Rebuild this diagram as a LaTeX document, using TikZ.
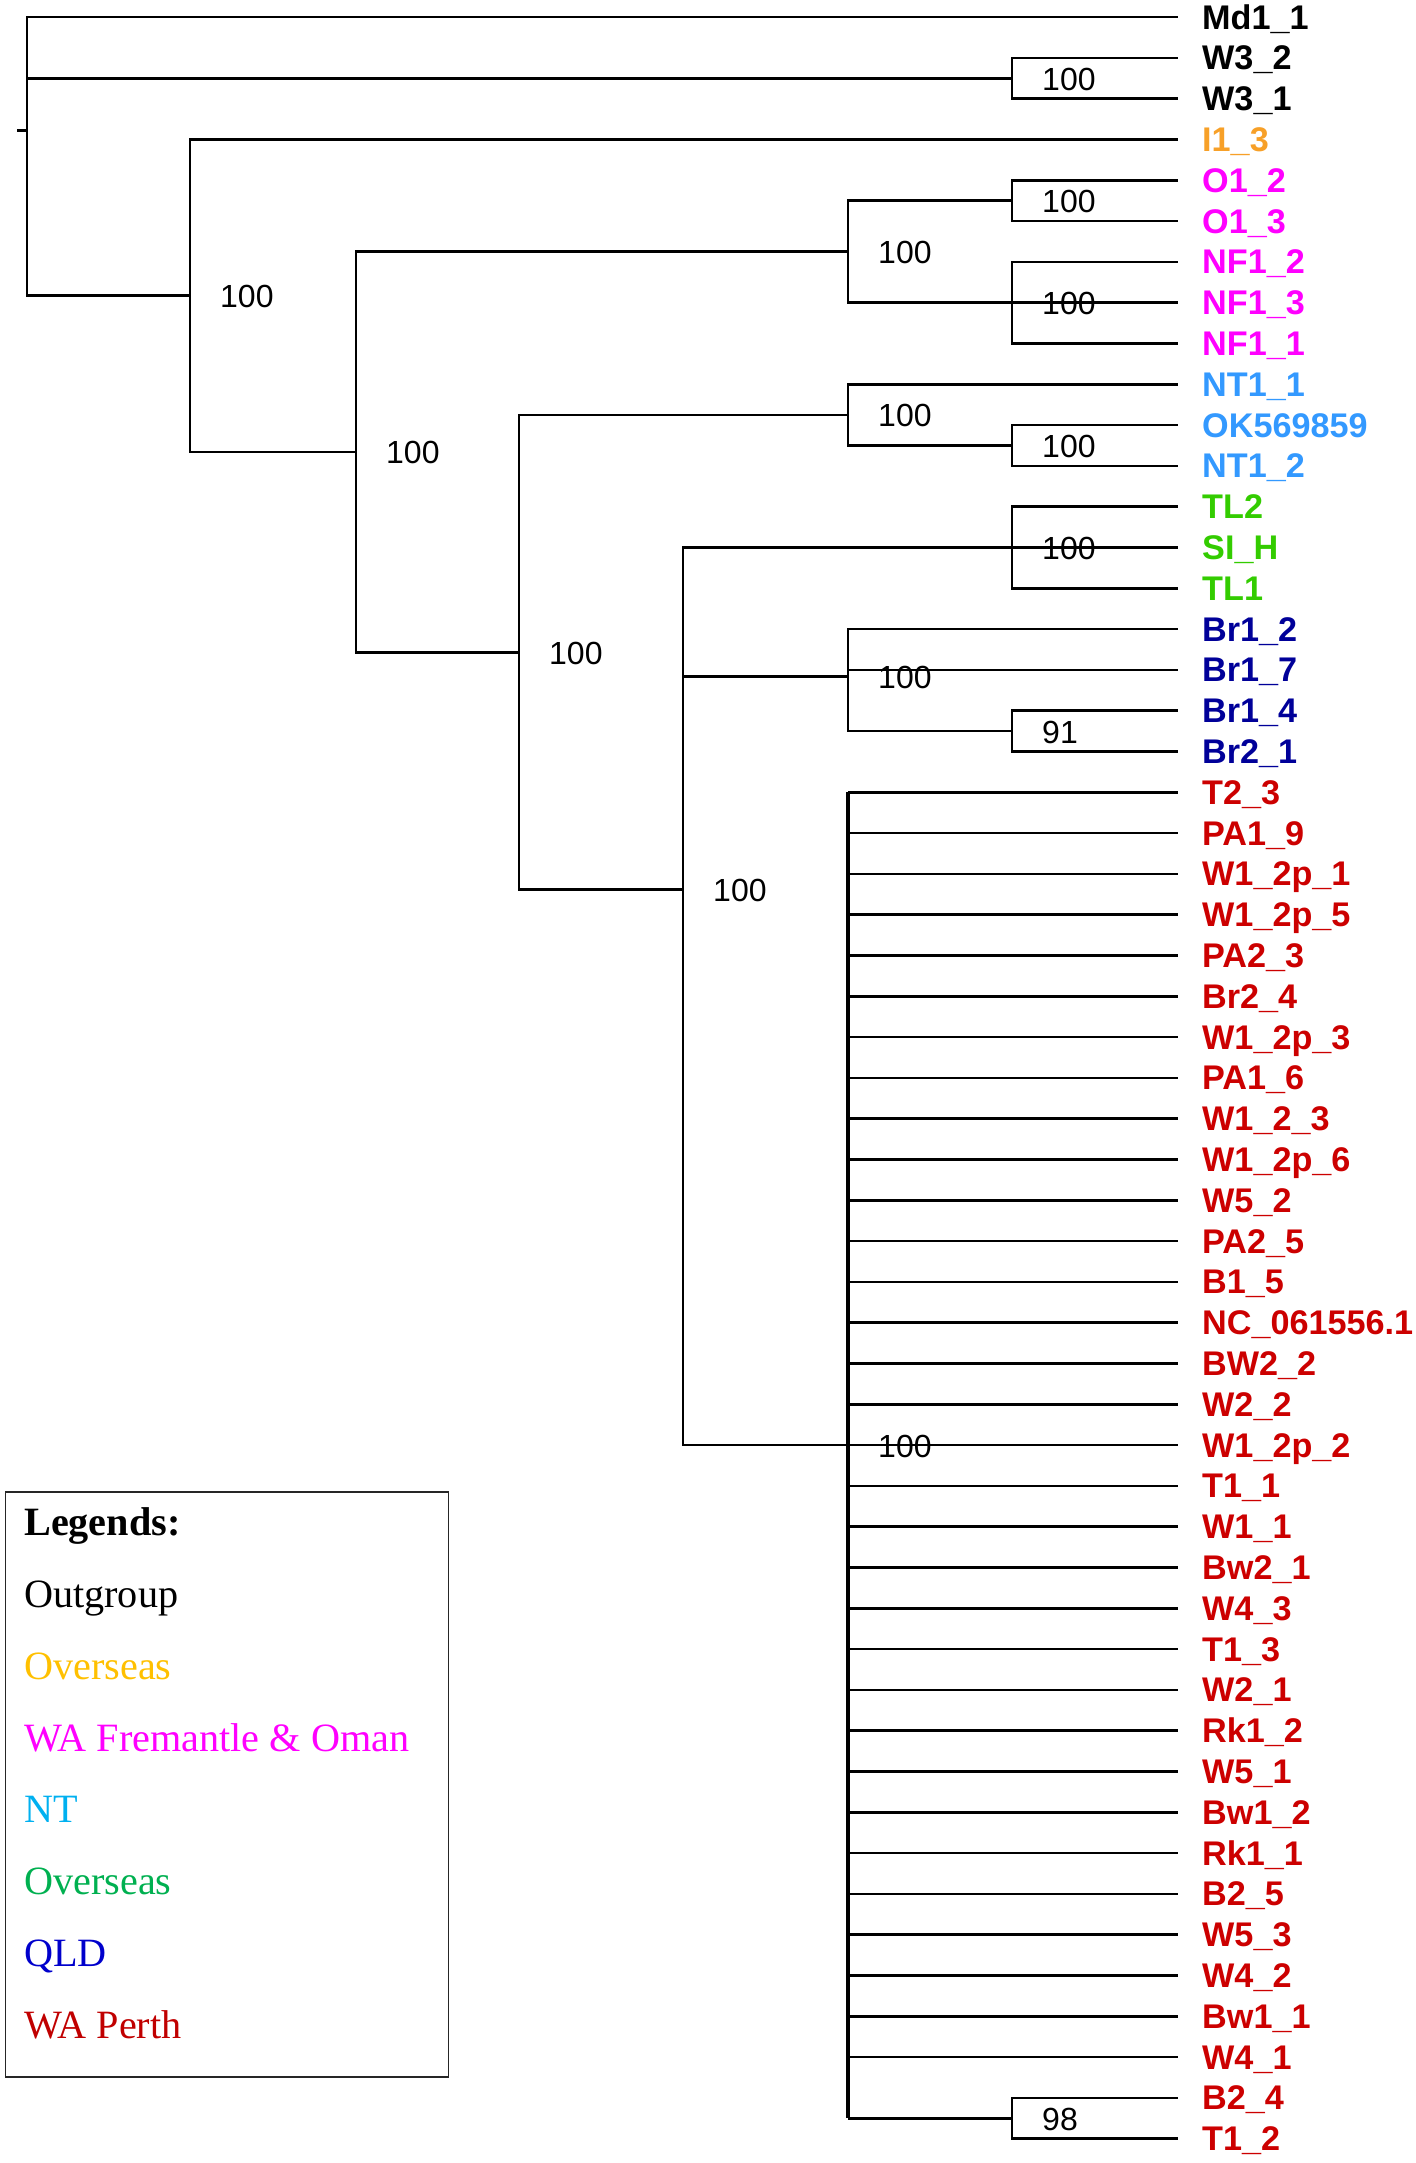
\documentclass[tikz,border=0pt]{standalone}
\usepackage{fontspec}
\setmainfont{Liberation Serif}
\newfontfamily\arialf{Liberation Sans}
\definecolor{cOrange}{RGB}{247,160,40}
\definecolor{cMag}{RGB}{255,0,255}
\definecolor{cNT}{RGB}{51,153,255}
\definecolor{cGreen}{RGB}{51,204,0}
\definecolor{cQLD}{RGB}{0,0,153}
\definecolor{cRed}{RGB}{204,0,0}
\definecolor{lgOrange}{RGB}{255,192,0}
\definecolor{lgMag}{RGB}{255,0,255}
\definecolor{lgNT}{RGB}{0,176,240}
\definecolor{lgGreen}{RGB}{0,176,80}
\definecolor{lgQLD}{RGB}{0,0,204}
\definecolor{lgRed}{RGB}{192,0,0}
\begin{document}
\begin{tikzpicture}[x=1pt,y=-1pt,
  branch/.style={line width=2.6pt,black},
  thickbranch/.style={line width=4.6pt,black},
  leaflab/.style={anchor=base west,inner sep=0pt,font=\arialf\bfseries\fontsize{34.2}{36}\selectfont},
  supp/.style={anchor=base west,inner sep=0pt,font=\arialf\fontsize{32}{36}\selectfont},
  legtext/.style={anchor=base west,inner sep=0pt,font=\fontsize{40.2}{44}\selectfont},
  legbox/.style={draw=black!85,line width=1.8pt}]
\useasboundingbox (0,0) rectangle (1416,2163);
% leaves
\foreach \i/\t/\c in {0/Md1\_1/black,1/W3\_2/black,2/W3\_1/black,3/I1\_3/cOrange,
  4/O1\_2/cMag,5/O1\_3/cMag,6/NF1\_2/cMag,7/NF1\_3/cMag,8/NF1\_1/cMag,
  9/NT1\_1/cNT,10/OK569859/cNT,11/NT1\_2/cNT,
  12/TL2/cGreen,13/SI\_H/cGreen,14/TL1/cGreen,
  15/Br1\_2/cQLD,16/Br1\_7/cQLD,17/Br1\_4/cQLD,18/Br2\_1/cQLD,
  19/T2\_3/cRed,20/PA1\_9/cRed,21/W1\_2p\_1/cRed,22/W1\_2p\_5/cRed,23/PA2\_3/cRed,
  24/Br2\_4/cRed,25/W1\_2p\_3/cRed,26/PA1\_6/cRed,27/W1\_2\_3/cRed,28/W1\_2p\_6/cRed,
  29/W5\_2/cRed,30/PA2\_5/cRed,31/B1\_5/cRed,32/NC\_061556.1/cRed,33/BW2\_2/cRed,
  34/W2\_2/cRed,35/W1\_2p\_2/cRed,36/T1\_1/cRed,37/W1\_1/cRed,38/Bw2\_1/cRed,
  39/W4\_3/cRed,40/T1\_3/cRed,41/W2\_1/cRed,42/Rk1\_2/cRed,43/W5\_1/cRed,
  44/Bw1\_2/cRed,45/Rk1\_1/cRed,46/B2\_5/cRed,47/W5\_3/cRed,48/W4\_2/cRed,
  49/Bw1\_1/cRed,50/W4\_1/cRed,51/B2\_4/cRed,52/T1\_2/cRed}{
  \coordinate (L\i) at (1178,{17+40.8*\i});
  \node[leaflab,text=\c] (T\i) at (1202,{17+40.8*\i+12}) {\t};
}
% internal nodes
\coordinate (R) at (27,130.3);
\coordinate (Rstub) at (17,130.3);
\coordinate (nW3) at (1012,78.2);
\coordinate (A) at (190,295.7);
\coordinate (B) at (356,451.9);
\coordinate (C) at (848,251.6);
\coordinate (nO1) at (1012,200.6);
\coordinate (nNF1) at (1012,302.6);
\coordinate (D) at (519,652.2);
\coordinate (E) at (848,414.8);
\coordinate (nOK) at (1012,445.4);
\coordinate (F) at (683,889.7);
\coordinate (nTL) at (1012,547.4);
\coordinate (G) at (848,676.6);
\coordinate (nBr) at (1012,731);
\coordinate (H) at (848,1445);
\coordinate (n98) at (1012,2118.2);
% branches
\draw[branch] (Rstub) -- (R);
\draw[branch] (R) |- (L0);
\draw[branch] (R) |- (nW3);
\draw[branch] (R) |- (A);
\draw[branch] (nW3) |- (L1);
\draw[branch] (nW3) |- (L2);
\draw[branch] (A) |- (L3);
\draw[branch] (A) |- (B);
\draw[branch] (B) |- (C);
\draw[branch] (B) |- (D);
\draw[branch] (C) |- (nO1);
\draw[branch] (C) |- (nNF1);
\draw[branch] (nO1) |- (L4);
\draw[branch] (nO1) |- (L5);
\draw[branch] (nNF1) |- (L6);
\draw[branch] (nNF1) |- (L7);
\draw[branch] (nNF1) |- (L8);
\draw[branch] (D) |- (E);
\draw[branch] (D) |- (F);
\draw[branch] (E) |- (L9);
\draw[branch] (E) |- (nOK);
\draw[branch] (nOK) |- (L10);
\draw[branch] (nOK) |- (L11);
\draw[branch] (F) |- (nTL);
\draw[branch] (F) |- (G);
\draw[branch] (F) |- (H);
\draw[branch] (nTL) |- (L12);
\draw[branch] (nTL) |- (L13);
\draw[branch] (nTL) |- (L14);
\draw[branch] (G) |- (L15);
\draw[branch] (G) |- (L16);
\draw[branch] (G) |- (nBr);
\draw[branch] (nBr) |- (L17);
\draw[branch] (nBr) |- (L18);
\draw[thickbranch] (H |- L19) -- (H |- n98);
\foreach \i in {19,...,50}{\draw[branch] (H |- L\i) -- (L\i);}
\draw[branch] (H |- n98) -- (n98);
\draw[branch] (n98) |- (L51);
\draw[branch] (n98) |- (L52);
% support values
\foreach \n/\v in {nW3/100,A/100,B/100,C/100,nO1/100,nNF1/100,D/100,E/100,nOK/100,F/100,nTL/100,G/100,nBr/91,H/100,n98/98}{
  \node[supp] (S\n) at ([xshift=30pt,yshift=-12pt]\n) {\v};
}
% legend
\draw[legbox] (5.5,1492) rectangle (448.5,2077);
\node[legtext,font=\fontsize{40.2}{44}\selectfont\bfseries] (lg0) at (24,1535) {Legends:};
\node[legtext,text=black] (lg1) at (24,1607) {Outgroup};
\node[legtext,text=lgOrange] (lg2) at (24,1679) {Overseas};
\node[legtext,text=lgMag] (lg3) at (24,1751) {WA Fremantle \& Oman};
\node[legtext,text=lgNT] (lg4) at (24,1822) {NT};
\node[legtext,text=lgGreen] (lg5) at (24,1894) {Overseas};
\node[legtext,text=lgQLD] (lg6) at (24,1966) {QLD};
\node[legtext,text=lgRed] (lg7) at (24,2038) {WA Perth};
\end{tikzpicture}
\end{document}
